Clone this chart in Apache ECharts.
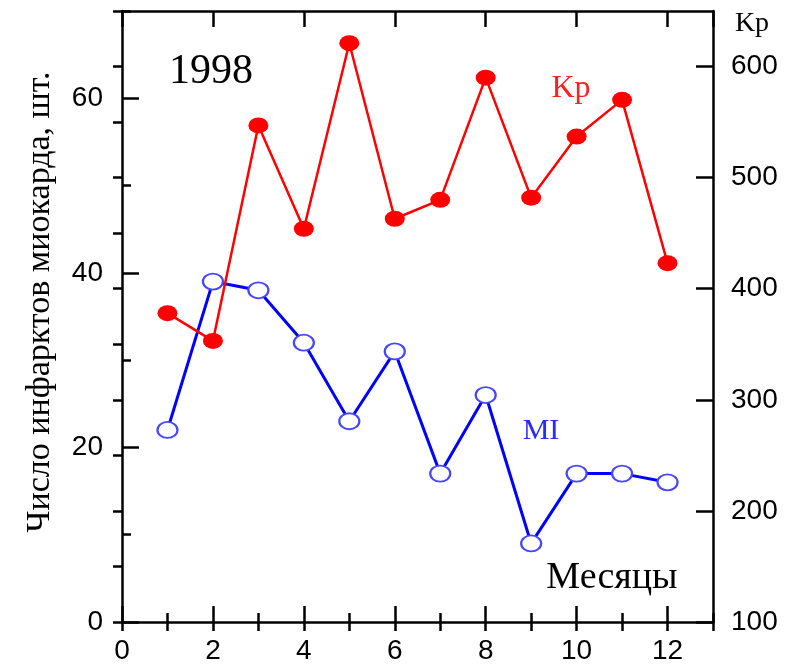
<!DOCTYPE html>
<html><head><meta charset="utf-8">
<script src="https://cdn.jsdelivr.net/npm/echarts@6/dist/echarts.min.js"></script>
<style>html,body{margin:0;padding:0;background:#fff}#c{width:792px;height:664px}</style>
</head><body><div id="c"></div>
<script>
const months = [1,2,3,4,5,6,7,8,9,10,11,12];
const miValues = [22,39,38,32,23,31,17,26,9,17,17,16];
const kpValues = [378,353,547,454,621,463,480,590,482,537,570,423];
const xRange = [0, 13];
const leftRange = [0, 70];
const rightRange = [100, 650];

const chart = echarts.init(document.getElementById('c'), null, {renderer:'canvas'});
const lineStyle = {color:'#000', width:2.5};
const labelFont = {color:'#000', fontFamily:'Liberation Sans', fontSize:28};
function ax(extra){
  return Object.assign({
    type:'value', splitLine:{show:false},
    axisLine:{show:true, onZero:false, lineStyle:lineStyle},
  }, extra);
}
chart.setOption({
  animation:false,
  backgroundColor:'#fff',
  grid:{left:122, top:11, right:79, bottom:42, containLabel:false, outerBoundsMode:'none'},
  xAxis:[
    ax({position:'bottom', min:xRange[0], max:xRange[1], interval:2,
      axisTick:{inside:true, length:16, lineStyle:lineStyle},
      axisLabel:Object.assign({margin:15, showMaxLabel:false}, labelFont)}),
    ax({position:'bottom', min:xRange[0], max:xRange[1], interval:1, axisLine:{show:false},
      axisTick:{inside:true, length:9, lineStyle:lineStyle}, axisLabel:{show:false}}),
    ax({position:'top', min:xRange[0], max:xRange[1], interval:2,
      axisTick:{inside:true, length:16, lineStyle:lineStyle}, axisLabel:{show:false}}),
    ax({position:'top', min:xRange[0], max:xRange[1], interval:1, axisLine:{show:false},
      axisTick:{inside:true, length:9, lineStyle:lineStyle}, axisLabel:{show:false}})
  ],
  yAxis:[
    ax({position:'left', min:leftRange[0], max:leftRange[1], interval:20,
      axisTick:{inside:true, length:17, lineStyle:lineStyle},
      axisLabel:Object.assign({margin:19, showMaxLabel:false}, labelFont)}),
    ax({position:'right', min:rightRange[0], max:rightRange[1], interval:100,
      axisTick:{inside:true, length:17, lineStyle:lineStyle},
      axisLabel:Object.assign({margin:18, showMaxLabel:false}, labelFont)}),
    ax({position:'left', min:leftRange[0], max:leftRange[1], interval:10, axisLine:{show:false},
      axisTick:{inside:true, length:9, lineStyle:lineStyle}, axisLabel:{show:false}}),
    ax({position:'right', min:rightRange[0], max:rightRange[1], interval:50, axisLine:{show:false},
      axisTick:{inside:true, length:9, lineStyle:lineStyle}, axisLabel:{show:false}})
  ],
  series:[
    {type:'line', xAxisIndex:0, yAxisIndex:0, data:months.map((m,i)=>[m, miValues[i]]),
      symbol:'circle', symbolSize:[20,16], showAllSymbol:true,
      lineStyle:{color:'#0000ff', width:3},
      itemStyle:{color:'#fff', borderColor:'#4646ff', borderWidth:2}, z:3},
    {type:'line', xAxisIndex:0, yAxisIndex:1, data:months.map((m,i)=>[m, kpValues[i]]),
      symbol:'circle', symbolSize:[20,16], showAllSymbol:true,
      lineStyle:{color:'#ff0000', width:2.5},
      itemStyle:{color:'#ff0000', borderWidth:0}, z:4}
  ],
  graphic:[
    {type:'text', x:211, y:72, style:{text:'1998', font:'42px "Liberation Serif"', fill:'#000', textAlign:'center', textVerticalAlign:'middle'}},
    {type:'text', x:571, y:89, style:{text:'Kp', font:'32px "Liberation Serif"', fill:'#ff2020', textAlign:'center', textVerticalAlign:'middle'}},
    {type:'text', x:541, y:431, style:{text:'MI', font:'30px "Liberation Serif"', fill:'#2a2aff', textAlign:'center', textVerticalAlign:'middle'}},
    {type:'text', x:612, y:578, style:{text:'Месяцы', font:'38px "Liberation Serif"', fill:'#000', textAlign:'center', textVerticalAlign:'middle'}},
    {type:'text', x:752, y:24, style:{text:'Kp', font:'28px "Liberation Serif"', fill:'#000', textAlign:'center', textVerticalAlign:'middle'}},
    {type:'text', x:40, y:302, rotation:Math.PI/2, style:{text:'Число инфарктов миокарда, шт.', font:'34px "Liberation Serif"', fill:'#000', textAlign:'center', textVerticalAlign:'middle'}}
  ]
});
</script></body></html>
